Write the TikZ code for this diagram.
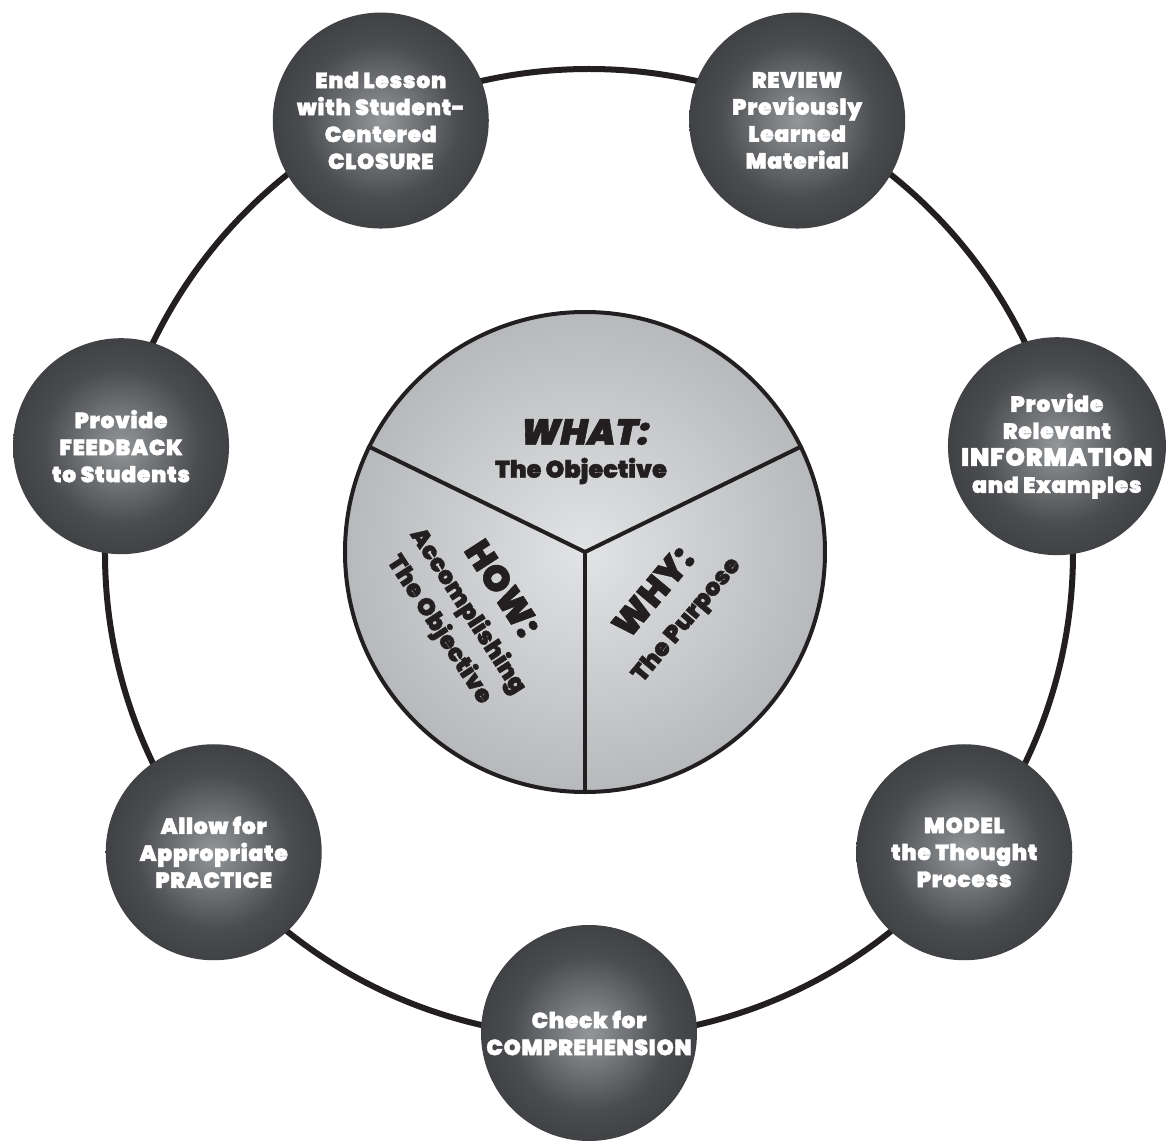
\documentclass[tikz,border=0pt]{standalone}
\usepackage{fontspec}
\IfFontExistsTF{Poppins Black}
  {\newfontfamily\heavyfont{Poppins Black}[FakeBold=1.6]
   \newfontfamily\stagefont{Poppins Black}[LetterSpace=3, FakeBold=1.6]
   \newfontfamily\heavyitfont{Poppins Black}[FakeSlant=0.2, FakeBold=1.6]}
  {\newfontfamily\heavyfont{DejaVu Sans}[UprightFont=* Bold]
   \newfontfamily\stagefont{DejaVu Sans}[UprightFont=* Bold]
   \newfontfamily\heavyitfont{DejaVu Sans}[UprightFont=* Bold Oblique]}
\definecolor{ink}{HTML}{231F20}
\definecolor{stagemid}{HTML}{94979A}
\definecolor{stagedark}{HTML}{4A4C4F}
\definecolor{stagedeep}{HTML}{343436}
\definecolor{stageedge}{HTML}{29292B}
\definecolor{hubmid}{HTML}{E2E3E5}
\definecolor{hubedge}{HTML}{8B8E91}
\usepackage{tikz}
\usetikzlibrary{positioning}

\pgfdeclareradialshading{stageshade}{\pgfpoint{0bp}{0bp}}{color(0bp)=(stagemid); color(18bp)=(stagedark); color(34bp)=(stagedeep); color(50bp)=(stageedge); color(100bp)=(stageedge)}
\pgfdeclareradialshading{hubshade}{\pgfpoint{0bp}{0bp}}{color(0bp)=(hubmid); color(50bp)=(hubedge); color(100bp)=(hubedge)}

\begin{document}
\begin{tikzpicture}[x=1pt, y=1pt,
  stage/.style={circle, minimum size=216pt, inner sep=0pt, shading=stageshade,
    text=white, align=center, font=\stagefont\fontsize{22}{27}\selectfont},
  hublabel/.style={text=ink, align=center, font=\heavyfont\fontsize{24}{30}\selectfont},
  divider/.style={draw=ink, line width=4pt}
]
  \useasboundingbox (-589,-588) rectangle (587,553);

  % Ring
  \draw[ink, line width=6pt] (0,0) circle (484);

  % Hub
  \node[circle, minimum size=480pt, inner sep=0pt, shading=hubshade,
    draw=ink, line width=4pt] (hub) at (-4,1) {};
  \draw[divider] (hub.154) -- (hub.center) -- (hub.26);
  \draw[divider] (hub.center) -- (hub.270);

  \node[hublabel] (what) at (-6,121) {{\heavyitfont\fontsize{36}{36}\selectfont WHAT:}};
  \node[hublabel] (whatsub) at (-8,82) {The Objective};
  \node[hublabel, rotate=-57] (how) at (-118,-56)
    {{\fontsize{36}{36}\selectfont HOW:}\\[6pt]Accomplishing\\[4pt]The Objective};
  \node[hublabel, rotate=50] (why) at (81,-53)
    {{\fontsize{36}{36}\selectfont WHY:}\\[8pt]The Purpose};

  % Stages round the ring
  \node[stage] (closure) at (115.71:480) {End Lesson\\with Student-\\Centered\\CLOSURE};
  \node[stage] (review) at (64.29:480) {REVIEW\\Previously\\Learned\\Material};
  \node[stage] (info) at (12.86:480) {Provide\\Relevant\\{\fontsize{25}{27}\selectfont INFORMATION}\\and Examples};
  \node[stage] (model) at (-38.57:480) {MODEL\\the Thought\\Process};
  \node[stage] (check) at (270:480) {Check for\\COMPREHENSION};
  \node[stage] (practice) at (218.57:480) {Allow for\\Appropriate\\PRACTICE};
  \node[stage] (feedback) at (167.14:480) {Provide\\FEEDBACK\\to Students};
\end{tikzpicture}
\end{document}
